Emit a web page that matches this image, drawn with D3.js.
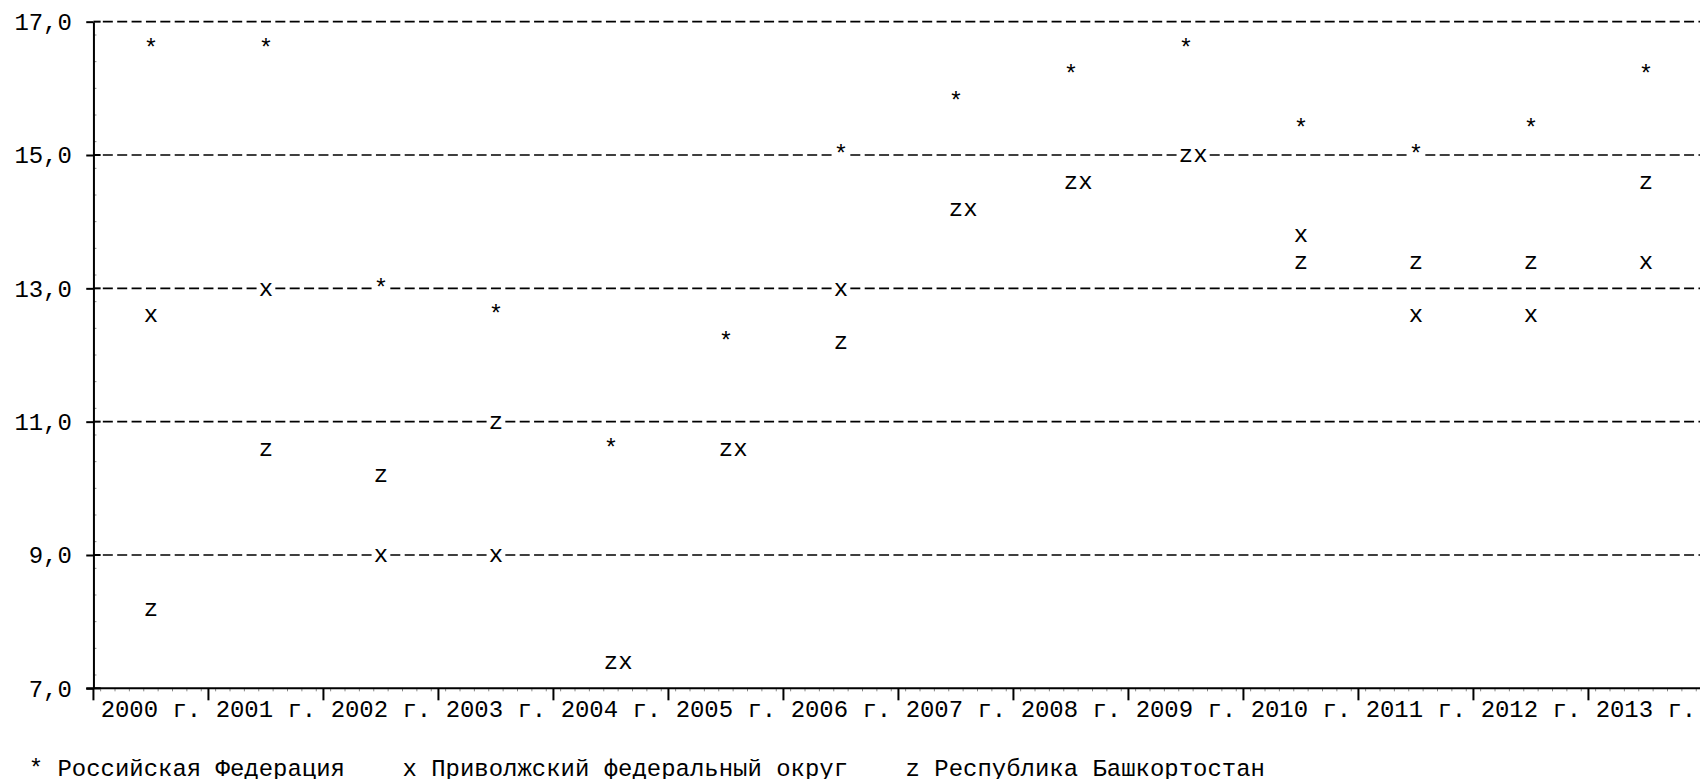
<!DOCTYPE html>
<html>
<head>
<meta charset="utf-8">
<style>
    body { margin: 0; background: #fff; }
    text { font-family: "Liberation Mono", "Courier New", monospace; font-size: 23.96px; fill: #000; }
    .grid { stroke: #000; stroke-width: 1.6; stroke-dasharray: 10 4.375; stroke-dashoffset: 12.175; }
    .axisline { stroke: #000; stroke-width: 2; }
    .notch { stroke: #888; stroke-width: 1; }
</style>
</head>
<body>
<script src="https://d3js.org/d3.v7.min.js"></script>
<script>

// data
var years = [2000, 2001, 2002, 2003, 2004, 2005, 2006, 2007, 2008, 2009, 2010, 2011, 2012, 2013];
var rfValues  = [16.6, 16.6, 13.0, 12.6, 10.6, 12.2, 15.0, 15.8, 16.2, 16.6, 15.4, 15.0, 15.4, 16.2];
var pfoValues = [12.6, 13.0,  9.0,  9.0,  7.4, 10.6, 13.0, 14.2, 14.6, 15.0, 13.8, 12.6, 12.6, 13.4];
var rbValues  = [ 8.2, 10.6, 10.2, 11.0,  7.4, 10.6, 12.2, 14.2, 14.6, 15.0, 13.4, 13.4, 13.4, 14.6];
var seriesNames = ["Российская Федерация", "Приволжский федеральный округ", "Республика Башкортостан"];
var seriesSymbols = ["*", "x", "z"];
var yTicks = [7, 9, 11, 13, 15, 17];

var width = 1700, height = 779;
// the chart is laid out on a character grid
var cw = 14.375;                       // column width
var rh = (688.33 - 21.67) / 25;        // row height
function colX(i) { return i * cw + cw / 2; }
function rowY(r) { return 21.67 + r * rh; }

var svg = d3.select("body").append("svg")
    .attr("width", width)
    .attr("height", height);

var yScale = d3.scaleLinear()
    .domain([7, 17])
    .range([rowY(25), rowY(0)]);

var xScale = d3.scaleBand()
    .domain(years)
    .range([colX(6), colX(6) + years.length * 8 * cw]);

var x0 = colX(6), yBase = yScale(7);

// dashed grid lines
var grid = svg.append("g");
grid.selectAll(".grid")
    .data(yTicks.filter(function(d) { return d > 7; }))
    .enter().append("line")
    .attr("class", "grid")
    .attr("x1", x0 + cw / 2).attr("x2", width)
    .attr("y1", function(d) { return yScale(d); })
    .attr("y2", function(d) { return yScale(d); });
grid.selectAll(".stub")
    .data(yTicks)
    .enter().append("line")
    .attr("class", "axisline")
    .attr("x1", x0).attr("x2", x0 + cw / 2)
    .attr("y1", function(d) { return yScale(d); })
    .attr("y2", function(d) { return yScale(d); });

// small notches along the axes
svg.append("g").selectAll("line")
    .data(d3.range(0, 25))
    .enter().append("line")
    .attr("class", "notch")
    .attr("x1", x0).attr("x2", x0 + 3)
    .attr("y1", function(d) { return rowY(d) + rh / 2; })
    .attr("y2", function(d) { return rowY(d) + rh / 2; });
svg.append("g").selectAll("line")
    .data(d3.range(6, 118))
    .enter().append("line")
    .attr("class", "notch")
    .attr("x1", function(d) { return colX(d) + cw / 2; })
    .attr("x2", function(d) { return colX(d) + cw / 2; })
    .attr("y1", yBase).attr("y2", yBase + 3);

// y axis
var yAxis = svg.append("g")
    .attr("transform", "translate(" + x0 + ",0)")
    .call(d3.axisLeft(yScale)
        .tickValues(yTicks)
        .tickSize(cw / 2)
        .tickSizeOuter(0)
        .tickPadding(cw)
        .tickFormat(function(d) { return d.toFixed(1).replace(".", ","); }));
yAxis.select(".domain").attr("class", "axisline domain").attr("stroke", "#000");
yAxis.selectAll(".tick line").attr("class", "axisline");
yAxis.selectAll("text").attr("dy", "0.32em").attr("fill", "#000");
yAxis.attr("font-family", null).attr("font-size", null);

// x axis line and boundary ticks
svg.append("line")
    .attr("class", "axisline")
    .attr("x1", x0 - cw / 2).attr("x2", width)
    .attr("y1", yBase).attr("y2", yBase);
svg.append("g").selectAll("line")
    .data(years)
    .enter().append("line")
    .attr("class", "axisline")
    .attr("x1", function(d) { return xScale(d); })
    .attr("x2", function(d) { return xScale(d); })
    .attr("y1", yBase).attr("y2", yBase + 12);

var xAxis = svg.append("g")
    .attr("transform", "translate(0," + yBase + ")")
    .call(d3.axisBottom(xScale)
        .tickSize(0)
        .tickPadding(rh - 0.99 * 23.96 + 0.36 * 23.96)
        .tickFormat(function(d) { return d + " г."; }));
xAxis.select(".domain").remove();
xAxis.selectAll("text").attr("fill", "#000");
xAxis.attr("font-family", null).attr("font-size", null);

// markers, placed in character cells; a clash moves the later one a column right
var series = [
    { sym: seriesSymbols[0], values: rfValues },
    { sym: seriesSymbols[2], values: rbValues },
    { sym: seriesSymbols[1], values: pfoValues }
];
var used = {};
var points = [];
series.forEach(function(s) {
    s.values.forEach(function(v, i) {
        var cx = xScale(years[i]) + xScale.bandwidth() / 2;
        var cy = yScale(v);
        var c = Math.round((cx - cw / 2) / cw);
        var key = function() { return c + ":" + Math.round(cy); };
        while (used[key()]) c++;
        used[key()] = true;
        points.push({ sym: s.sym, x: colX(c), y: cy });
    });
});

var marks = svg.append("g");
marks.selectAll("rect")
    .data(points)
    .enter().append("rect")
    .attr("x", function(d) { return d.x - cw / 2; })
    .attr("y", function(d) { return d.y - 4; })
    .attr("width", cw)
    .attr("height", 8)
    .attr("fill", "#fff");
marks.selectAll("text")
    .data(points)
    .enter().append("text")
    .attr("x", function(d) { return d.x; })
    .attr("y", function(d) { return d.y; })
    .attr("dy", "0.3em")
    .attr("text-anchor", "middle")
    .text(function(d) { return d.sym; });

// legend line
svg.append("text")
    .attr("x", colX(2) - cw / 2)
    .attr("y", rowY(28))
    .attr("dy", "0.32em")
    .attr("xml:space", "preserve")
    .style("white-space", "pre")
    .text(seriesNames.map(function(n, i) { return seriesSymbols[i] + " " + n; }).join("    "));

</script>
</body>
</html>
